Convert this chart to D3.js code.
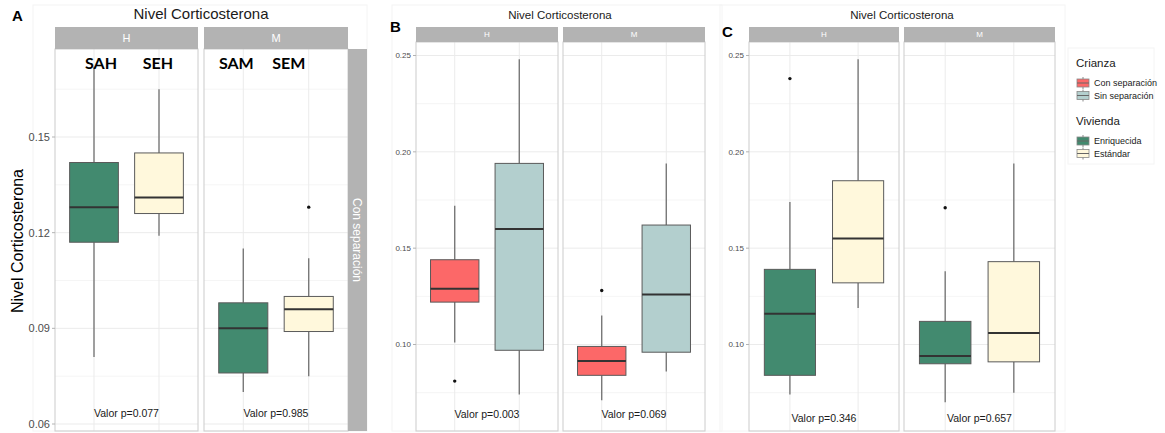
<!DOCTYPE html>
<html>
<head>
<meta charset="utf-8">
<script src="https://cdn.jsdelivr.net/npm/d3@7"></script>
<style>
  body { margin: 0; background: #fff; }
  svg { display: block; font-family: "Liberation Sans", Arial, sans-serif; }
</style>
</head>
<body>
<div id="chart"></div>
<script>
// ---- datos ----
const sexos = ["H", "M"];
// estadísticos de cada caja: [bigote inf, q1, mediana, q3, bigote sup]
const gruposA = [["SAH", "SEH"], ["SAM", "SEM"]];
const statsA = [
  [[0.081, 0.117, 0.128, 0.142, 0.172], [0.119, 0.126, 0.131, 0.145, 0.165]],
  [[0.070, 0.076, 0.090, 0.098, 0.115], [0.075, 0.089, 0.096, 0.100, 0.112]]
];
const outliersA = [[[], []], [[], [0.128]]];
const fillsA = ["Enriquecida", "Estándar"];

const statsB = [
  [[0.101, 0.122, 0.129, 0.144, 0.172], [0.074, 0.097, 0.160, 0.194, 0.248]],
  [[0.071, 0.084, 0.0915, 0.099, 0.115], [0.086, 0.096, 0.126, 0.162, 0.194]]
];
const outliersB = [[[0.081], []], [[0.128], []]];
const fillsB = ["Con separación", "Sin separación"];

const statsC = [
  [[0.074, 0.084, 0.116, 0.139, 0.174], [0.119, 0.132, 0.155, 0.185, 0.248]],
  [[0.070, 0.090, 0.094, 0.112, 0.138], [0.075, 0.091, 0.106, 0.143, 0.194]]
];
const outliersC = [[[0.238], []], [[0.171], []]];
const fillsC = ["Enriquecida", "Estándar"];

const pValoresA = ["0.077", "0.985"];
const pValoresB = ["0.003", "0.069"];
const pValoresC = ["0.346", "0.657"];

const ticksA = [0.06, 0.09, 0.12, 0.15];
const minorA = [0.075, 0.105, 0.135, 0.165];
const ticksBC = [0.10, 0.15, 0.20, 0.25];
const minorBC = [0.075, 0.125, 0.175, 0.225];

const crianza = ["Con separación", "Sin separación"];
const vivienda = ["Enriquecida", "Estándar"];

const colores = {
  "Con separación": "#fc6868",
  "Sin separación": "#b3cfce",
  "Enriquecida": "#428a6f",
  "Estándar": "#fff8dc"
};

// ---- dibujo ----
const W = 1165, H = 433;
const svg = d3.select("#chart").append("svg").attr("width", W).attr("height", H);

// marcos tenues del montaje original
const faint = "#f4f4f4";
[[33, 5, 334, 426], [392, 5, 330, 426], [720, 5, 345, 426], [1068, 48, 86, 116]].forEach(r => {
  svg.append("rect").attr("x", r[0]).attr("y", r[1]).attr("width", r[2]).attr("height", r[3])
    .attr("fill", "none").attr("stroke", faint).attr("stroke-width", 1);
});

function drawPanel(cfg) {
  const g = svg.append("g");
  const y = d3.scaleLinear().domain(cfg.yDomain).range(cfg.yRange);

  // título y letra
  g.append("text").attr("x", cfg.titleX).attr("y", cfg.titleY)
    .attr("text-anchor", "middle").attr("font-size", cfg.titleSize).attr("fill", "#1a1a1a")
    .text("Nivel Corticosterona");
  g.append("text").attr("x", cfg.letter[0]).attr("y", cfg.letter[1])
    .attr("font-size", cfg.letterSize).attr("font-weight", "bold").attr("fill", "#000")
    .text(cfg.letter[2]);

  cfg.facets.forEach((f, i) => {
    const [x0, x1] = f;
    const x = d3.scalePoint().domain([0, 1]).range([x0, x1]).padding(0.6);
    const bw = x.step() * 0.75;
    const pg = g.append("g");

    // grilla
    cfg.minor.forEach(v => {
      const yy = y(v);
      if (yy < cfg.top || yy > cfg.bottom) return;
      pg.append("line").attr("x1", x0).attr("x2", x1).attr("y1", yy).attr("y2", yy)
        .attr("stroke", "#f3f3f3").attr("stroke-width", 0.8);
    });
    cfg.ticks.forEach(v => {
      const yy = y(v);
      if (yy < cfg.top || yy > cfg.bottom) return;
      pg.append("line").attr("x1", x0).attr("x2", x1).attr("y1", yy).attr("y2", yy)
        .attr("stroke", "#ebebeb").attr("stroke-width", 1);
    });
    [0, 1].forEach(k => {
      pg.append("line").attr("x1", x(k)).attr("x2", x(k)).attr("y1", cfg.top).attr("y2", cfg.bottom)
        .attr("stroke", "#ebebeb").attr("stroke-width", 1);
    });

    // cajas
    cfg.stats[i].forEach((s, k) => {
      const cx = x(k);
      const [lo, q1, med, q3, hi] = s;
      pg.append("line").attr("x1", cx).attr("x2", cx).attr("y1", y(hi)).attr("y2", y(q3))
        .attr("stroke", "#707070").attr("stroke-width", 1.3);
      pg.append("line").attr("x1", cx).attr("x2", cx).attr("y1", y(q1)).attr("y2", y(lo))
        .attr("stroke", "#707070").attr("stroke-width", 1.3);
      pg.append("rect").attr("x", cx - bw / 2).attr("y", y(q3)).attr("width", bw)
        .attr("height", y(q1) - y(q3)).attr("fill", colores[cfg.fills[k]])
        .attr("stroke", "#5a5a5a").attr("stroke-width", 1);
      pg.append("line").attr("x1", cx - bw / 2).attr("x2", cx + bw / 2)
        .attr("y1", y(med)).attr("y2", y(med)).attr("stroke", "#333").attr("stroke-width", 2);
      cfg.outliers[i][k].forEach(o => {
        pg.append("circle").attr("cx", cx).attr("cy", y(o)).attr("r", 1.7).attr("fill", "#111");
      });
    });

    // borde del panel
    pg.append("rect").attr("x", x0).attr("y", cfg.top).attr("width", x1 - x0)
      .attr("height", cfg.bottom - cfg.top).attr("fill", "none")
      .attr("stroke", "#cccccc").attr("stroke-width", 1);

    // franja superior
    pg.append("rect").attr("x", x0).attr("y", cfg.stripTop).attr("width", x1 - x0)
      .attr("height", cfg.top - cfg.stripTop).attr("fill", "#b3b3b3");
    pg.append("text").attr("x", (x0 + x1) / 2).attr("y", (cfg.stripTop + cfg.top) / 2)
      .attr("dy", "0.35em").attr("text-anchor", "middle").attr("fill", "#fff")
      .attr("font-size", cfg.stripSize).text(sexos[i]);

    // etiquetas de grupo (solo panel A)
    if (cfg.groupLabels) {
      cfg.groupLabels[i].forEach((lab, k) => {
        pg.append("text").attr("x", x(k) + cfg.groupOffsets[i][k]).attr("y", 69)
          .attr("text-anchor", "middle").attr("font-family", "Lato, 'Liberation Sans', sans-serif")
          .attr("font-weight", "bold").attr("font-size", 16).attr("fill", "#000").text(lab);
      });
    }

    // valor p
    pg.append("text").attr("x", (x0 + x1) / 2).attr("y", cfg.pY)
      .attr("text-anchor", "middle").attr("font-size", 10.5).attr("fill", "#1a1a1a")
      .text("Valor p=" + cfg.pValues[i]);
  });

  // eje y
  const x0 = cfg.facets[0][0];
  cfg.ticks.forEach(v => {
    const yy = y(v);
    g.append("line").attr("x1", x0 - 3).attr("x2", x0).attr("y1", yy).attr("y2", yy)
      .attr("stroke", "#b3b3b3").attr("stroke-width", 1);
    g.append("text").attr("x", x0 - 5).attr("y", yy).attr("dy", "0.35em")
      .attr("text-anchor", "end").attr("font-size", cfg.tickSize).attr("fill", "#4d4d4d")
      .text(d3.format(".2f")(v));
  });
}

drawPanel({
  facets: [[55, 198], [204, 348]], top: 49, bottom: 431, stripTop: 27,
  yDomain: [0.06, 0.15], yRange: [424, 137],
  ticks: ticksA, minor: minorA, tickSize: 11, stripSize: 11,
  stats: statsA, outliers: outliersA, fills: fillsA, pValues: pValoresA, pY: 417,
  titleX: 201, titleY: 19, titleSize: 15, letter: [12, 21, "A"], letterSize: 15,
  groupLabels: gruposA, groupOffsets: [[7, -1], [-7, -20]]
});
drawPanel({
  facets: [[416, 558], [563, 705]], top: 42, bottom: 431, stripTop: 27,
  yDomain: [0.10, 0.25], yRange: [344.5, 55.5],
  ticks: ticksBC, minor: minorBC, tickSize: 8, stripSize: 8,
  stats: statsB, outliers: outliersB, fills: fillsB, pValues: pValoresB, pY: 418,
  titleX: 560, titleY: 19, titleSize: 11.5, letter: [390, 32, "B"], letterSize: 15
});
drawPanel({
  facets: [[749, 899], [904, 1055]], top: 42, bottom: 431, stripTop: 27,
  yDomain: [0.10, 0.25], yRange: [344.5, 55.5],
  ticks: ticksBC, minor: minorBC, tickSize: 8, stripSize: 8,
  stats: statsC, outliers: outliersC, fills: fillsC, pValues: pValoresC, pY: 422,
  titleX: 902, titleY: 19, titleSize: 11.5, letter: [722, 37, "C"], letterSize: 15
});

// franja lateral "Con separación" del panel A
svg.append("rect").attr("x", 348).attr("y", 49).attr("width", 19).attr("height", 382).attr("fill", "#b3b3b3");
svg.append("text").attr("transform", "translate(357.5,240) rotate(90)")
  .attr("text-anchor", "middle").attr("dy", "0.35em").attr("font-size", 12).attr("fill", "#fff")
  .text("Con separación");

// título eje y panel A
svg.append("text").attr("transform", "translate(23,241) rotate(-90)")
  .attr("text-anchor", "middle").attr("font-size", 16).attr("fill", "#000")
  .text("Nivel Corticosterona");

// leyendas
function legend(title, items, ty) {
  const lg = svg.append("g");
  lg.append("text").attr("x", 1076).attr("y", ty).attr("font-size", 11.5).attr("fill", "#1a1a1a").text(title);
  items.forEach((it, i) => {
    const cy = ty + 16 + i * 12.5;
    lg.append("line").attr("x1", 1083).attr("x2", 1083).attr("y1", cy - 6).attr("y2", cy + 6)
      .attr("stroke", "#888").attr("stroke-width", 1);
    lg.append("rect").attr("x", 1077).attr("y", cy - 4).attr("width", 12).attr("height", 8)
      .attr("fill", colores[it]).attr("stroke", "#888").attr("stroke-width", 0.8);
    lg.append("line").attr("x1", 1077).attr("x2", 1089).attr("y1", cy).attr("y2", cy)
      .attr("stroke", "#666").attr("stroke-width", 1);
    lg.append("text").attr("x", 1094).attr("y", cy).attr("dy", "0.35em")
      .attr("font-size", 9).attr("fill", "#1a1a1a").text(it);
  });
}
legend("Crianza", crianza, 67);
legend("Vivienda", vivienda, 125);
</script>
</body>
</html>
